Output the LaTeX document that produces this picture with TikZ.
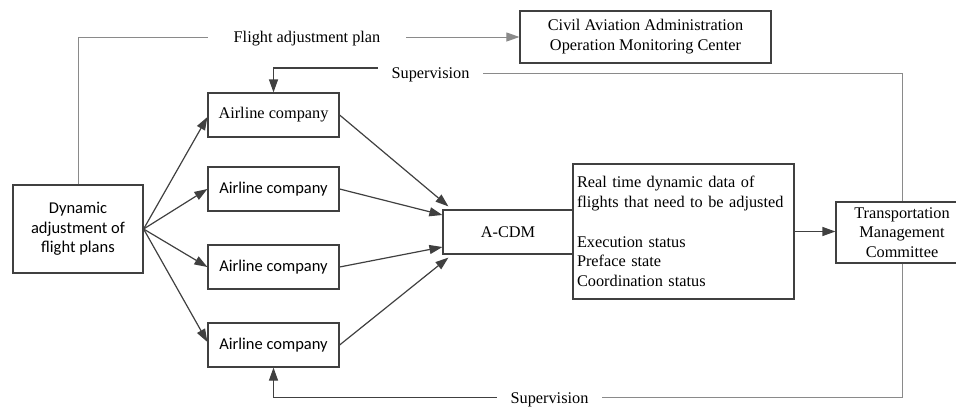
\documentclass[tikz,border=0pt]{standalone}
\usepackage{fontspec}
\setmainfont{Liberation Serif}
\newfontfamily\calfont{Carlito}
\usetikzlibrary{arrows.meta}
\definecolor{dk}{HTML}{404040}
\definecolor{lg}{HTML}{8A8A8A}
\begin{document}
\begin{tikzpicture}[x=1pt,y=-1pt,
  box/.style={draw=dk,line width=1.2pt,inner sep=0pt,align=center,font=\fontsize{16.3}{19.8}\selectfont},
  sbox/.style={box,font=\calfont\fontsize{16.5}{19.6}\selectfont},
  lbl/.style={inner sep=0pt,text height=11pt,text depth=0pt,font=\fontsize{16.3}{19.8}\selectfont},
  arr/.style={draw=dk,line width=1.2pt,-{Triangle[length=13pt,width=9pt]}},
  garr/.style={draw=lg,line width=0.9pt,-{Triangle[length=13pt,width=9pt]}},
  gline/.style={draw=lg,line width=0.9pt},
  dline/.style={draw=dk,line width=1.2pt}]
\useasboundingbox (0,0) rectangle (956,407);
\clip (0,0) rectangle (956,407);
% boxes
\node[sbox,minimum width=130pt,minimum height=88pt] (dyn) at (78,229) {Dynamic\\adjustment of\\flight plans};
\node[box,minimum width=131pt,minimum height=44pt] (air1) at (273.5,115) {Airline company};
\node[sbox,minimum width=131pt,minimum height=44pt] (air2) at (273.5,189) {Airline company};
\node[sbox,minimum width=131pt,minimum height=44pt] (air3) at (273.5,267) {Airline company};
\node[sbox,minimum width=131pt,minimum height=44pt] (air4) at (273.5,345) {Airline company};
\node[box,minimum width=130pt,minimum height=44pt] (acdm) at (508,232) {A-CDM};
\node[box,minimum width=221pt,minimum height=135pt,text width=213pt,align=left] (data) at (683.5,231.5)
  {Real time dynamic data of\\flights that need to be adjusted\\[19.8pt]Execution status\\Preface state\\Coordination status};
\node[box,minimum width=132pt,minimum height=61pt] (trans) at (902,232.5) {Transportation\\Management\\Committee};
\node[box,minimum width=251pt,minimum height=52pt] (civil) at (645.5,37) {Civil Aviation Administration\\Operation Monitoring Center};
% labels
\node[lbl,minimum width=198pt] (fap) at (307,37) {Flight adjustment plan};
\node[lbl,minimum width=105pt] (sup1) at (430.5,73) {Supervision};
\node[lbl,minimum width=105pt] (sup2) at (549.5,397.5) {Supervision};
% flight adjustment plan
\draw[gline] (dyn.north) |- (fap.west);
\draw[garr] (fap.east) -- (civil.west);
% dyn to airlines
\draw[arr] (dyn.east) -- ([yshift=-2pt]air1.west);
\draw[arr] (dyn.east) -- (air2.west);
\draw[arr] (dyn.east) -- (air3.west);
\draw[arr] (dyn.east) -- ([yshift=3pt]air4.west);
% airlines to A-CDM
\draw[arr] (air1.east) -- ([xshift=6pt,yshift=3pt]acdm.north west);
\draw[arr] (air2.east) -- ([yshift=17pt]acdm.west);
\draw[arr] (air3.east) -- ([yshift=-15pt]acdm.west);
\draw[arr] (air4.east) -- ([xshift=6pt,yshift=-3pt]acdm.south west);
% data to trans
\draw[arr] (data.east) -- (data.east -| trans.west);
% supervision top
\draw[arr] ([yshift=5pt]sup1.west) -| (air1.north);
\draw[gline] (sup1.east) -| (trans.north);
% supervision bottom
\draw[gline] (trans.south) |- (sup2.east);
\draw[arr] (sup2.west) -| (air4.south);
\end{tikzpicture}
\end{document}
